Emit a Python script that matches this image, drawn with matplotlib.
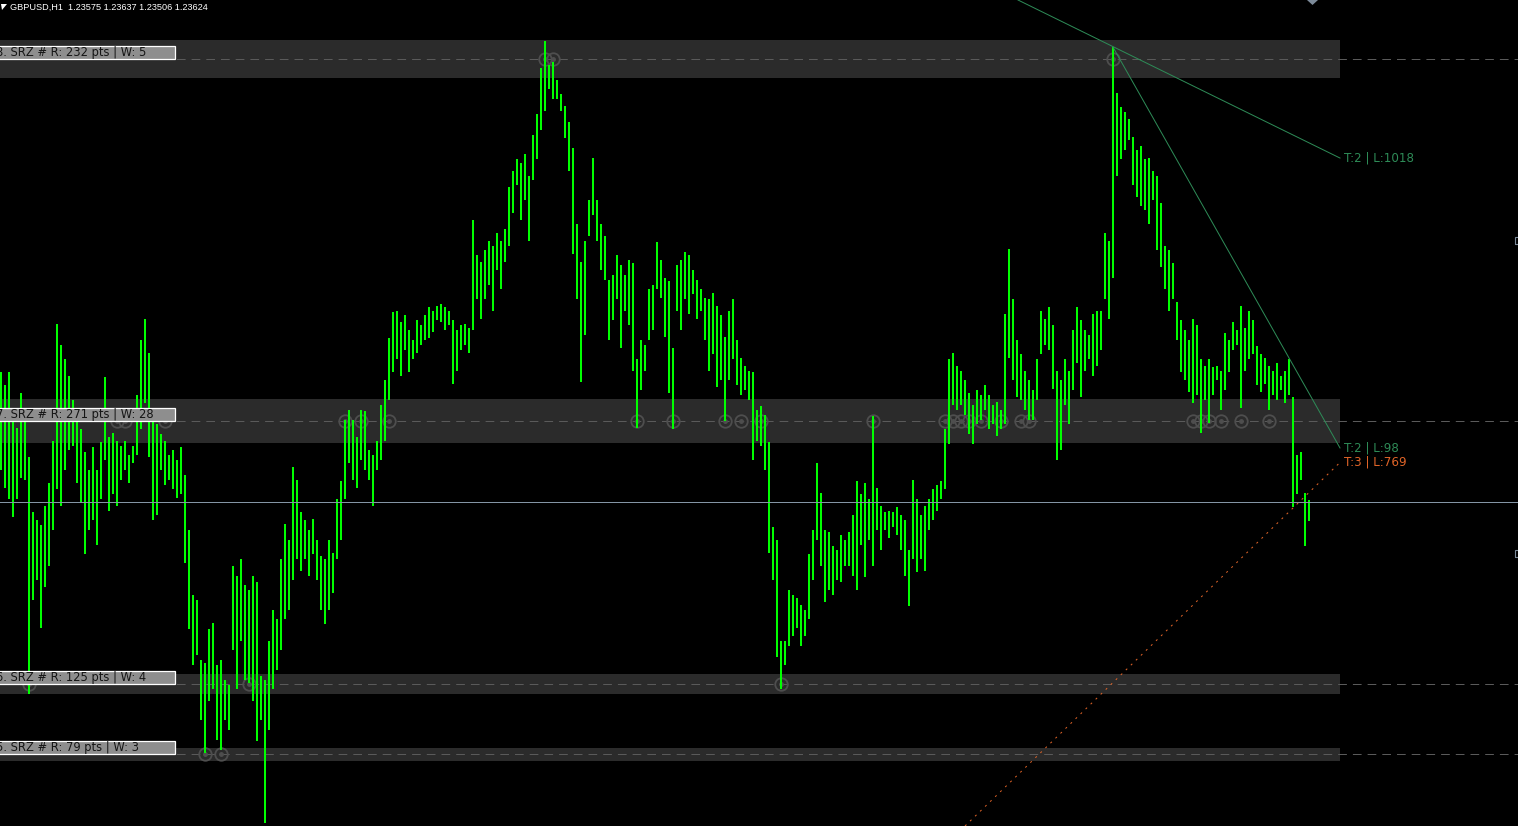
import numpy as np
import matplotlib.pyplot as plt
from matplotlib.patches import Rectangle, Polygon

W, H = 1518, 826

symbol = "GBPUSD,H1"
last_ohlc = [1.23575, 1.23637, 1.23506, 1.23624]

# hourly highs / lows, oldest bar first
high = [
    1.2442, 1.2434, 1.2442, 1.2413, 1.2408, 1.2429, 1.2416, 1.2390, 1.2356, 1.2351, 1.2348, 1.2360,
    1.2374, 1.2400, 1.2472, 1.2459, 1.2450, 1.2440, 1.2425, 1.2419, 1.2407, 1.2393, 1.2382, 1.2396,
    1.2382, 1.2399, 1.2439, 1.2402, 1.2405, 1.2400, 1.2397, 1.2400, 1.2391, 1.2397, 1.2428, 1.2462,
    1.2475, 1.2454, 1.2413, 1.2410, 1.2404, 1.2400, 1.2391, 1.2394, 1.2388, 1.2396, 1.2379, 1.2345,
    1.2305, 1.2302, 1.2265, 1.2263, 1.2284, 1.2288, 1.2262, 1.2265, 1.2253,
    1.2250, 1.2323, 1.2317, 1.2327, 1.2311, 1.2308, 1.2317, 1.2313, 1.2255, 1.2253, 1.2277, 1.2296,
    1.2290, 1.2327, 1.2349, 1.2339, 1.2384, 1.2376, 1.2356, 1.2351, 1.2345, 1.2352, 1.2339, 1.2329,
    1.2327, 1.2339, 1.2331, 1.2364, 1.2375, 1.2413, 1.2419, 1.2413, 1.2402, 1.2419, 1.2418, 1.2394,
    1.2391, 1.2400, 1.2422, 1.2437, 1.2463, 1.2479, 1.2480, 1.2473, 1.2477, 1.2468, 1.2462, 1.2474,
    1.2471, 1.2477, 1.2482, 1.2480, 1.2483, 1.2484, 1.2482, 1.2480,
    1.2474, 1.2468, 1.2471, 1.2472, 1.2469, 1.2536, 1.2514, 1.2510, 1.2517, 1.2523, 1.2520, 1.2528,
    1.2523, 1.2530, 1.2556, 1.2566, 1.2573, 1.2571, 1.2576, 1.2563, 1.2588, 1.2601, 1.2629, 1.2646,
    1.2631, 1.2633, 1.2622, 1.2613, 1.2606, 1.2596, 1.2580, 1.2533, 1.2510, 1.2523, 1.2548, 1.2574,
    1.2548, 1.2533, 1.2526, 1.2499, 1.2502, 1.2514, 1.2508, 1.2502, 1.2511, 1.2509, 1.2450, 1.2462,
    1.2459, 1.2493, 1.2496, 1.2522, 1.2511, 1.2500, 1.2498, 1.2457, 1.2508,
    1.2511, 1.2516, 1.2514, 1.2505, 1.2499, 1.2493, 1.2488, 1.2487, 1.2491, 1.2483, 1.2477, 1.2464,
    1.2480, 1.2487, 1.2462, 1.2451, 1.2446, 1.2443, 1.2442, 1.2419, 1.2421, 1.2416, 1.2399, 1.2347,
    1.2339, 1.2277, 1.2277, 1.2308, 1.2305, 1.2303, 1.2299, 1.2296, 1.2330, 1.2345, 1.2386, 1.2368,
    1.2345, 1.2344, 1.2335, 1.2333, 1.2342, 1.2339, 1.2344, 1.2354, 1.2375, 1.2367, 1.2374, 1.2364,
    1.2415, 1.2371, 1.2360, 1.2356, 1.2357, 1.2356, 1.2359,
    1.2354, 1.2351, 1.2333, 1.2376, 1.2364, 1.2354, 1.2360, 1.2364, 1.2370, 1.2373, 1.2375, 1.2407,
    1.2450, 1.2454, 1.2446, 1.2443, 1.2437, 1.2429, 1.2422, 1.2431, 1.2428, 1.2434, 1.2428, 1.2422,
    1.2424, 1.2419, 1.2478, 1.2518, 1.2487, 1.2462, 1.2453, 1.2443, 1.2437, 1.2431, 1.2450, 1.2480,
    1.2475, 1.2482, 1.2471, 1.2443, 1.2437, 1.2450, 1.2443, 1.2468, 1.2482, 1.2474, 1.2468, 1.2465,
    1.2478, 1.2480, 1.2480, 1.2528, 1.2523, 1.2642, 1.2614, 1.2605, 1.2602, 1.2598,
    1.2587, 1.2579, 1.2581, 1.2573, 1.2574, 1.2566, 1.2563, 1.2546, 1.2520, 1.2517, 1.2509, 1.2485,
    1.2474, 1.2468, 1.2462, 1.2475, 1.2471, 1.2450, 1.2446, 1.2450, 1.2445, 1.2446, 1.2443, 1.2466,
    1.2462, 1.2473, 1.2468, 1.2483, 1.2469, 1.2480, 1.2474, 1.2458, 1.2453, 1.2451, 1.2446, 1.2443,
    1.2448, 1.2440, 1.2443, 1.2450, 1.2427, 1.2391, 1.2393, 1.2368, 1.23637,
]
low = [
    1.2382, 1.2371, 1.2364, 1.2353, 1.2364, 1.2377, 1.2376, 1.2244, 1.2302, 1.2314, 1.2285, 1.2310,
    1.2323, 1.2345, 1.2370, 1.2360, 1.2382, 1.2394, 1.2397, 1.2374, 1.2362, 1.2330, 1.2345, 1.2351,
    1.2336, 1.2364, 1.2388, 1.2357, 1.2367, 1.2360, 1.2376, 1.2382, 1.2374, 1.2386, 1.2391, 1.2407,
    1.2423, 1.2390, 1.2351, 1.2354, 1.2382, 1.2373, 1.2376, 1.2370, 1.2365, 1.2367, 1.2325, 1.2284,
    1.2262, 1.2268, 1.2228, 1.2208, 1.2240, 1.2247, 1.2216, 1.2210, 1.2228,
    1.2222, 1.2271, 1.2247, 1.2277, 1.2253, 1.2251, 1.2240, 1.2215, 1.2228, 1.2165, 1.2222, 1.2247,
    1.2259, 1.2271, 1.2290, 1.2296, 1.2314, 1.2327, 1.2320, 1.2327, 1.2317, 1.2330, 1.2314, 1.2296,
    1.2287, 1.2296, 1.2306, 1.2327, 1.2339, 1.2364, 1.2386, 1.2376, 1.2371, 1.2388, 1.2382, 1.2376,
    1.2360, 1.2382, 1.2388, 1.2400, 1.2425, 1.2442, 1.2450, 1.2440, 1.2456, 1.2442, 1.2450, 1.2454,
    1.2459, 1.2462, 1.2463, 1.2467, 1.2474, 1.2473, 1.2468, 1.2471,
    1.2435, 1.2443, 1.2456, 1.2459, 1.2454, 1.2468, 1.2487, 1.2475, 1.2487, 1.2496, 1.2480, 1.2505,
    1.2493, 1.2510, 1.2520, 1.2540, 1.2557, 1.2536, 1.2548, 1.2523, 1.2560, 1.2573, 1.2591, 1.2603,
    1.2616, 1.2610, 1.2610, 1.2603, 1.2586, 1.2566, 1.2515, 1.2487, 1.2436, 1.2465, 1.2526, 1.2539,
    1.2523, 1.2505, 1.2499, 1.2462, 1.2474, 1.2487, 1.2457, 1.2480, 1.2471, 1.2443, 1.2408, 1.2431,
    1.2443, 1.2462, 1.2468, 1.2493, 1.2488, 1.2464, 1.2429, 1.2407, 1.2480,
    1.2468, 1.2487, 1.2478, 1.2490, 1.2475, 1.2480, 1.2462, 1.2443, 1.2453, 1.2433, 1.2437, 1.2412,
    1.2437, 1.2450, 1.2434, 1.2428, 1.2431, 1.2425, 1.2388, 1.2400, 1.2397, 1.2382, 1.2331, 1.2314,
    1.2267, 1.2247, 1.2262, 1.2274, 1.2280, 1.2285, 1.2274, 1.2280, 1.2290, 1.2314, 1.2339, 1.2323,
    1.2301, 1.2308, 1.2305, 1.2314, 1.2313, 1.2323, 1.2323, 1.2317, 1.2308, 1.2336, 1.2316, 1.2339,
    1.2323, 1.2345, 1.2333, 1.2345, 1.2340, 1.2347, 1.2342,
    1.2333, 1.2317, 1.2298, 1.2327, 1.2319, 1.2327, 1.2320, 1.2345, 1.2351, 1.2357, 1.2364, 1.2370,
    1.2398, 1.2422, 1.2419, 1.2422, 1.2416, 1.2404, 1.2398, 1.2410, 1.2413, 1.2419, 1.2407, 1.2410,
    1.2403, 1.2407, 1.2410, 1.2451, 1.2437, 1.2427, 1.2425, 1.2419, 1.2413, 1.2413, 1.2425, 1.2453,
    1.2459, 1.2456, 1.2432, 1.2388, 1.2394, 1.2422, 1.2410, 1.2431, 1.2448, 1.2427, 1.2443, 1.2450,
    1.2440, 1.2446, 1.2456, 1.2487, 1.2475, 1.2500, 1.2563, 1.2573, 1.2579, 1.2585,
    1.2557, 1.2550, 1.2544, 1.2542, 1.2533, 1.2548, 1.2517, 1.2507, 1.2493, 1.2480, 1.2487, 1.2462,
    1.2442, 1.2437, 1.2430, 1.2423, 1.2428, 1.2405, 1.2425, 1.2411, 1.2428, 1.2437, 1.2419, 1.2431,
    1.2442, 1.2456, 1.2459, 1.2420, 1.2443, 1.2450, 1.2453, 1.2434, 1.2430, 1.2435, 1.2419, 1.2428,
    1.2425, 1.2431, 1.2423, 1.2428, 1.2359, 1.2367, 1.2376, 1.2335, 1.23506,
]

# support / resistance zones
zone_id = [8, 7, 6, 5]
zone_top = [1.26464, 1.24257, 1.22565, 1.22110]
zone_bot = [1.26232, 1.23986, 1.22440, 1.22031]
zone_weight = [5, 28, 4, 3]
zone_touch = [
    [136, 138, 278],
    [29, 31, 41, 86, 90, 97, 159, 168, 181, 185, 190, 218, 236, 238, 240, 242,
     245, 250, 255, 257, 298, 300, 302, 305, 310, 317],
    [7, 62, 195],
    [51, 55],
]

# trendlines (bar index, price)
trend_x = [[254.25, 334.75], [278, 334.75], [241, 334.75]]
trend_y = [[1.2671, 1.25738], [1.2642, 1.23955], [1.2163, 1.23866]]
trend_text = ["T:2 | L:1018", "T:2 | L:98", "T:3 | L:769"]
trend_color = ["#2e8b57", "#2e8b57", "#e06428"]

fig = plt.figure(figsize=(W / 100, H / 100), dpi=100, facecolor="black")
ax = fig.add_axes([0, 0, 1, 1])
ax.set_facecolor("black")
ax.axis("off")
ax.set_xlim(-0.25, -0.25 + W / 4)
ax.set_ylim(1.2163, 1.2671)
ppp = (1.2671 - 1.2163) / H  # price per pixel

idx = np.arange(len(high))
zone_end = idx[-1] + 7.75

for zid, top, bot, w, touches in zip(zone_id, zone_top, zone_bot, zone_weight, zone_touch):
    mid = (top + bot) / 2
    ax.add_patch(Rectangle((-0.25, bot), zone_end + 0.25, top - bot,
                           facecolor="#2b2b2b", edgecolor="none", zorder=0))
    ax.axhline(mid, color="#5a5a5a", lw=0.72, dashes=(8.7, 6), zorder=1)
    ax.plot(touches, [mid] * len(touches), "o", ms=9, mfc="none", mec="#4e4e4e", mew=1.3, zorder=2)
    ax.plot(touches, [mid] * len(touches), "o", ms=2.5, color="#4e4e4e", zorder=2)
    pts = round((top - bot) * 1e5)
    ax.add_patch(Rectangle((-1.5, mid), 45, 13 * ppp, facecolor="#8e8e8e",
                           edgecolor="white", lw=0.9, zorder=6))
    ax.text(-1.3, mid + 6.5 * ppp, f"{zid}. SRZ # R: {pts} pts | W: {w}",
            color="#151515", fontsize=8.3, va="center", ha="left", zorder=7)

# price bars
ax.vlines(idx, low, high, colors="#00ff00", lw=1.44, antialiased=False, zorder=3)

# bid line
ax.axhline(last_ohlc[3], color="#8495a5", lw=0.72, zorder=4)

# trendlines
for tx, ty, txt, c in zip(trend_x, trend_y, trend_text, trend_color):
    if c == "#e06428":
        ax.plot(tx, ty, color=c, lw=0.72, dashes=(2, 5), zorder=5)
    else:
        ax.plot(tx, ty, color=c, lw=0.72, zorder=5)
    ax.text(tx[1] + 1, ty[1], txt, color=c, fontsize=8.6, va="center", ha="left", zorder=7)


def fpx(x, y):
    return (x / W, 1 - y / H)


# header
fig.text(*fpx(10, 7), f"{symbol}  " + " ".join(f"{v:.5f}" for v in last_ohlc),
         color="white", fontsize=6.6, family="Liberation Sans", va="center")
fig.add_artist(Polygon([fpx(1, 4), fpx(7, 4), fpx(2, 10)], closed=True,
                       facecolor="white", edgecolor="none", transform=fig.transFigure))
# chart shift marker and small scale markers
fig.add_artist(Polygon([fpx(1307, 0), fpx(1318, 0), fpx(1312.5, 5)], closed=True,
                       facecolor="#7c8a99", edgecolor="none", transform=fig.transFigure))
for yy in (237, 550):
    x0, y0 = fpx(1515, yy + 7)
    fig.add_artist(Rectangle((x0, y0), 6 / W, 7 / H, facecolor="none", edgecolor="#7c8a99",
                             lw=0.8, transform=fig.transFigure))

fig.savefig("out.png", dpi=100, facecolor="black")
